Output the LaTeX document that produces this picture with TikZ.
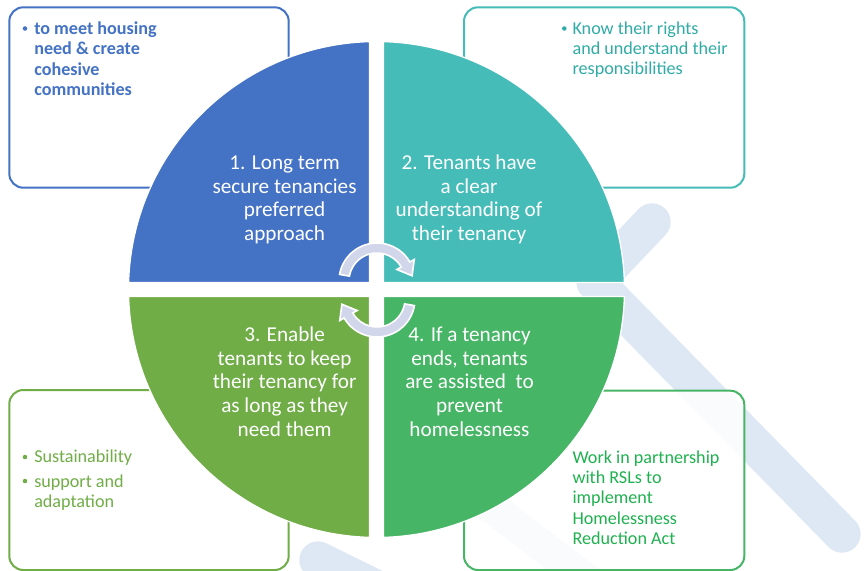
\documentclass[tikz,border=0pt]{standalone}
\usepackage{fontspec}
\setmainfont{Carlito}
\usetikzlibrary{calc}

\definecolor{qblue}{HTML}{4472C4}
\definecolor{qteal}{HTML}{45BCB8}
\definecolor{qlgreen}{HTML}{70AD47}
\definecolor{qgreen}{HTML}{47B566}
\definecolor{tealtxt}{HTML}{30ABA5}
\definecolor{greentxt}{HTML}{1FB14F}
\definecolor{wmark}{HTML}{DEE8F4}
\definecolor{cyc}{HTML}{D2D6EB}

\begin{document}
\begin{tikzpicture}[x=0.75pt, y=-0.75pt,
    quad/.style={draw=white, line width=1pt},
    qtext/.style={white, font=\fontsize{15.9}{17.7}\selectfont, align=center, inner sep=0pt, anchor=base},
    box/.style={rounded corners=10.5pt, line width=1.5pt, fill=white, fill opacity=0.85},
    btext/.style={font=\fontsize{13.6}{15.2}\selectfont, align=left, inner sep=0pt, anchor=base west},
    bul/.style={circle, fill, inner sep=0pt, minimum size=3.4pt},
    cycarrow/.style={fill=cyc, draw=white, line width=1.2pt},
    band/.style={wmark, line width=28pt, line cap=round, line join=round}
]

%------------------------ parameters ------------------------
\def\R{248}   % circle radius (px)
\def\g{7}     % half gap between quadrants
\pgfmathsetmacro{\a}{asin(\g/\R)}
\coordinate (O) at (376.5,289.5);

\useasboundingbox[fill=white] (0,0) rectangle (864,571);

%------------------------ watermark ------------------------
\draw[band] (652,222) -- (595,282) -- (842,534);
\draw[band] (318,560) -- (430,615);
\draw[band, line width=24pt] (440,468) -- (620,605);

%------------------------ corner boxes ------------------------
\draw[box, draw=qblue]   (9.3,7.3)  rectangle (288.7,187.7);
\draw[box, draw=qteal]   (464,7.3)  rectangle (744.3,187.7);
\draw[box, draw=qlgreen] (9.3,390)  rectangle (288.7,570);
\draw[box, draw=qgreen]  (464,390.7) rectangle (744.3,570);

% texts are placed by the baseline of their last line
\node[bul, qblue] (d1) at (25,28.5) {};
\node[btext, qblue, font=\fontsize{13.6}{15.2}\selectfont\bfseries] (b1) at (34,95.5)
  {to meet housing\\need \& create\\cohesive\\communities};

\node[bul, tealtxt] (d2) at (564.3,28.5) {};
\node[btext, tealtxt] (b2) at (572.3,74.8)
  {Know their rights\\and understand their\\responsibilities};

\node[bul, qlgreen] (d3) at (25,457) {};
\node[bul, qlgreen] (d4) at (25,481) {};
\node[btext, qlgreen] (b3) at (34,507.5)
  {Sustainability\\[3pt]support and\\adaptation};

\node[btext, greentxt] (b4) at (572.3,544.5)
  {Work in partnership\\with RSLs to\\implement\\Homelessness\\Reduction Act};

%------------------------ quadrants ------------------------
\begin{scope}[shift={(O)}]
  \filldraw[quad, fill=qblue]   (-\g,-\g) -- (180+\a:\R) arc[start angle=180+\a, end angle=270-\a, radius=\R] -- cycle;
  \filldraw[quad, fill=qteal]   (\g,-\g)  -- (270+\a:\R) arc[start angle=270+\a, end angle=360-\a, radius=\R] -- cycle;
  \filldraw[quad, fill=qgreen]  (\g,\g)   -- (\a:\R)     arc[start angle=\a, end angle=90-\a, radius=\R] -- cycle;
  \filldraw[quad, fill=qlgreen] (-\g,\g)  -- (90+\a:\R)  arc[start angle=90+\a, end angle=180-\a, radius=\R] -- cycle;
\end{scope}

\node[qtext] (q1) at (284.6,240.5) {1. Long term\\secure tenancies\\preferred\\approach};
\node[qtext] (q2) at (469,240.5) {2. Tenants have\\a clear\\understanding of\\their tenancy};
\node[qtext] (q3) at (284.6,436) {3. Enable\\tenants to keep\\their tenancy for\\as long as they\\need them};
\node[qtext] (q4) at (469.5,436) {4. If a tenancy\\ends, tenants\\are assisted\ \ to\\prevent\\homelessness};

%------------------------ cycle arrows ------------------------
\begin{scope}[shift={(377,281)}]
  \filldraw[cycarrow] (190:38) arc[start angle=190, end angle=330, radius=38]
    -- (330:43) -- ($(330:33)+(60:13)$) -- (330:23)
    -- (330:28) arc[start angle=330, end angle=190, radius=28] -- cycle;
\end{scope}
\begin{scope}[shift={(377,299)}]
  \filldraw[cycarrow] (10:38) arc[start angle=10, end angle=150, radius=38]
    -- (150:43) -- ($(150:33)+(240:13)$) -- (150:23)
    -- (150:28) arc[start angle=150, end angle=10, radius=28] -- cycle;
\end{scope}

\end{tikzpicture}
\end{document}
